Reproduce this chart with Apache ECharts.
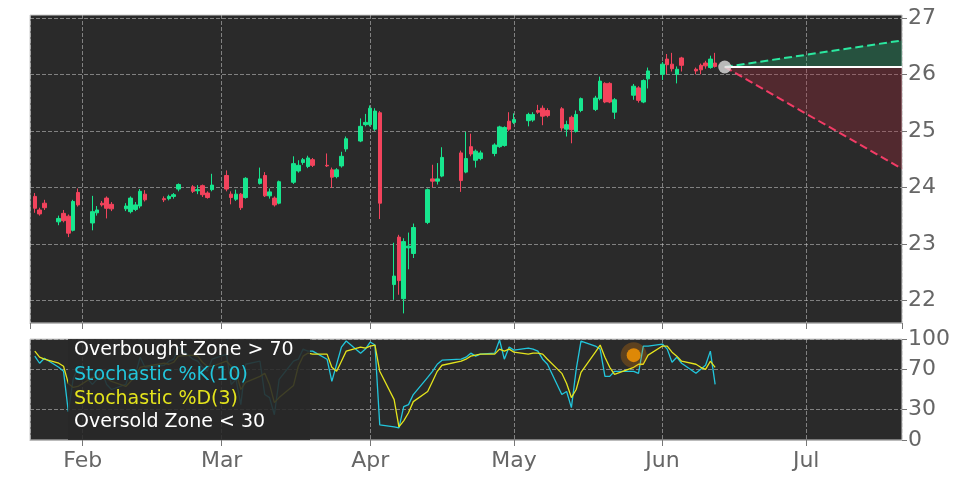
<!DOCTYPE html>
<html style="height: 100%">
<head>
    <meta charset="utf-8">
    <script src="https://cdn.jsdelivr.net/npm/echarts@6.0.0/dist/echarts.min.js"></script>
</head>
<body style="height: 100%; margin: 0; background: #fff">
    <div id="container" style="width: 972px; height: 486px"></div>
    <script>
        const dates = [
            '2020-01-22', '2020-01-23', '2020-01-24',
            '2020-01-27', '2020-01-28', '2020-01-29', '2020-01-30', '2020-01-31',
            '2020-02-03', '2020-02-04', '2020-02-05', '2020-02-06', '2020-02-07',
            '2020-02-10', '2020-02-11', '2020-02-12', '2020-02-13', '2020-02-14',
            '2020-02-18', '2020-02-19', '2020-02-20', '2020-02-21',
            '2020-02-24', '2020-02-25', '2020-02-26', '2020-02-27', '2020-02-28',
            '2020-03-02', '2020-03-03', '2020-03-04', '2020-03-05', '2020-03-06',
            '2020-03-09', '2020-03-10', '2020-03-11', '2020-03-12', '2020-03-13',
            '2020-03-16', '2020-03-17', '2020-03-18', '2020-03-19', '2020-03-20',
            '2020-03-23', '2020-03-24', '2020-03-25', '2020-03-26', '2020-03-27',
            '2020-03-30', '2020-03-31', '2020-04-01', '2020-04-02', '2020-04-03',
            '2020-04-06', '2020-04-07', '2020-04-08', '2020-04-09', '2020-04-10',
            '2020-04-13', '2020-04-14', '2020-04-15', '2020-04-16',
            '2020-04-20', '2020-04-21', '2020-04-22', '2020-04-23', '2020-04-24',
            '2020-04-27', '2020-04-28', '2020-04-29', '2020-04-30', '2020-05-01',
            '2020-05-04', '2020-05-05', '2020-05-06', '2020-05-07', '2020-05-08',
            '2020-05-11', '2020-05-12', '2020-05-13', '2020-05-14', '2020-05-15',
            '2020-05-18', '2020-05-19', '2020-05-20', '2020-05-21', '2020-05-22',
            '2020-05-26', '2020-05-27', '2020-05-28', '2020-05-29',
            '2020-06-01', '2020-06-02', '2020-06-03', '2020-06-04', '2020-06-05',
            '2020-06-08', '2020-06-09', '2020-06-10', '2020-06-11', '2020-06-12'
        ];
        // open, close, low, high
        const candles = [
            [23.84, 23.63, 23.55, 23.90], [23.60, 23.53, 23.50, 23.64], [23.72, 23.64, 23.60, 23.78],
            [23.39, 23.45, 23.33, 23.50], [23.54, 23.41, 23.38, 23.60], [23.49, 23.19, 23.12, 23.52], [23.24, 23.75, 23.22, 23.78], [23.91, 23.69, 23.66, 23.98],
            [23.37, 23.57, 23.24, 23.85], [23.55, 23.60, 23.50, 23.67], [23.72, 23.69, 23.66, 23.76], [23.81, 23.63, 23.45, 23.84], [23.70, 23.62, 23.58, 23.74],
            [23.62, 23.67, 23.58, 23.72], [23.57, 23.81, 23.54, 23.84], [23.61, 23.69, 23.58, 23.74], [23.67, 23.93, 23.63, 23.97], [23.88, 23.78, 23.75, 23.95],
            [23.80, 23.78, 23.74, 23.84], [23.80, 23.84, 23.77, 23.87], [23.84, 23.87, 23.80, 23.90], [23.97, 24.05, 23.93, 24.07],
            [24.01, 23.93, 23.90, 24.04], [23.94, 23.96, 23.88, 24.04], [24.03, 23.87, 23.83, 24.05], [23.90, 23.82, 23.80, 23.93], [23.96, 24.04, 23.93, 24.24],
            [24.21, 23.97, 23.93, 24.30], [23.88, 23.82, 23.70, 23.93], [23.79, 23.88, 23.76, 23.96], [23.88, 23.64, 23.60, 23.90], [23.82, 24.16, 23.80, 24.18],
            [24.07, 24.15, 24.05, 24.35], [24.21, 23.85, 23.83, 24.27], [23.85, 23.92, 23.80, 23.98], [23.81, 23.69, 23.66, 23.84], [23.72, 24.10, 23.70, 24.12],
            [24.09, 24.42, 24.06, 24.55], [24.29, 24.39, 24.26, 24.48], [24.44, 24.49, 24.40, 24.52], [24.37, 24.52, 24.34, 24.56], [24.49, 24.39, 24.36, 24.52],
            [24.39, 24.38, 24.36, 24.60], [24.31, 24.18, 23.99, 24.35], [24.19, 24.31, 24.16, 24.34], [24.38, 24.55, 24.35, 24.63], [24.68, 24.86, 24.63, 24.90],
            [24.82, 25.08, 24.80, 25.22], [25.11, 25.15, 25.08, 25.30], [25.11, 25.40, 25.08, 25.45], [25.03, 25.35, 25.00, 25.40], [25.32, 23.72, 23.44, 25.35],
            [22.28, 22.43, 22.01, 23.02], [23.12, 22.35, 22.10, 23.16], [22.03, 23.04, 21.77, 23.10], [22.93, 22.96, 22.55, 23.20], [22.83, 23.29, 22.75, 23.36],
            [23.38, 23.96, 23.35, 23.98], [24.15, 24.11, 24.00, 24.40], [24.11, 24.15, 24.05, 24.43], [24.20, 24.53, 24.18, 24.71],
            [24.61, 24.12, 23.92, 24.65], [24.27, 24.51, 24.25, 24.98], [24.72, 24.59, 24.55, 24.95], [24.48, 24.64, 24.35, 24.67], [24.51, 24.61, 24.48, 24.65],
            [24.60, 24.75, 24.55, 24.78], [24.72, 25.07, 24.70, 25.09], [24.74, 25.06, 24.72, 25.08], [25.17, 25.03, 25.00, 25.33], [25.15, 25.20, 25.12, 25.31],
            [25.18, 25.29, 25.08, 25.32], [25.19, 25.29, 25.16, 25.33], [25.36, 25.33, 25.30, 25.46], [25.40, 25.26, 25.10, 25.45], [25.36, 25.27, 25.24, 25.40],
            [25.39, 25.05, 25.00, 25.42], [25.03, 25.11, 24.90, 25.18], [25.24, 25.02, 24.78, 25.27], [24.99, 25.29, 24.97, 25.36], [25.36, 25.57, 25.33, 25.59],
            [25.38, 25.58, 25.35, 25.62], [25.57, 25.88, 25.54, 25.96], [25.84, 25.51, 25.49, 25.86], [25.84, 25.51, 25.49, 25.86], [25.33, 25.55, 25.21, 25.58],
            [25.63, 25.79, 25.55, 25.83], [25.76, 25.54, 25.50, 25.79], [25.51, 25.89, 25.49, 25.91], [25.92, 26.06, 25.75, 26.12],
            [26.00, 26.18, 25.90, 26.22], [26.27, 26.17, 26.00, 26.36], [26.18, 26.10, 26.05, 26.38], [26.00, 26.09, 25.84, 26.14], [26.29, 26.16, 26.05, 26.31],
            [26.09, 26.06, 26.00, 26.12], [26.16, 26.08, 26.00, 26.19], [26.20, 26.15, 26.10, 26.24], [26.12, 26.27, 26.10, 26.33], [26.20, 26.14, 26.12, 26.38]
        ];
        const stochK = [
            83, 76, 81, 72, 68, 28, 60, 72, 55, 60, 68, 55, 50, 55, 70, 65, 82, 72, 74, 78, 80, 92,
            80, 78, 72, 68, 80, 85, 55, 60, 35, 75, 78, 45, 42, 25, 60, 78, 80, 90, 88, 88,
            80, 58, 75, 92, 98, 86, 90, 97, 94, 15, 13, 12, 33, 35, 45, 62, 68, 75, 79,
            80, 82, 86, 83, 85, 86, 99, 80, 92, 89, 91, 90, 88, 80, 75, 45, 48, 32, 70, 98,
            93, 90, 63, 63, 68, 68, 66, 93, 93, 95, 90, 77, 82, 76, 66, 70, 74, 88, 55
        ];
        const stochD = [
            88, 82, 80, 76, 73, 56, 52, 53, 62, 62, 61, 61, 58, 53, 58, 63, 72, 73, 76, 75, 77, 83,
            84, 83, 77, 73, 73, 78, 73, 67, 50, 57, 63, 66, 55, 37, 42, 54, 73, 83, 86, 85,
            85, 72, 68, 78, 88, 92, 91, 93, 94, 68, 40, 13, 19, 27, 38, 48, 58, 68, 74,
            78, 80, 83, 84, 85, 85, 90, 88, 90, 87, 85, 86, 86, 85, 80, 66, 56, 42, 50, 67,
            87, 94, 82, 72, 65, 72, 75, 75, 84, 93, 93, 87, 83, 78, 75, 72, 70, 78, 72
        ];
        const lastDate = '2020-06-14';
        const lastClose = 26.13;
        const projDate = '2020-07-21';
        const projHigh = 26.6;
        const projLow = 24.33;
        const signalDate = '2020-05-26';
        const signalValue = 84;
        const priceTicks = [22, 23, 24, 25, 26, 27];
        const stochTicks = [0, 30, 70, 100];

        const monthNames = ['Jan', 'Feb', 'Mar', 'Apr', 'May', 'Jun', 'Jul', 'Aug'];
        const xMin = '2020-01-21';
        const xMax = '2020-07-21';
        const gridColor = 'rgba(200, 200, 200, 0.55)';
        const DAY = 86400000;

        const xAxisBase = {
            type: 'time',
            min: xMin,
            max: xMax,
            minInterval: 28 * DAY,
            maxInterval: 31 * DAY,
            axisLine: { show: true, lineStyle: { color: '#bbb' } },
            axisTick: { show: true, length: 6, lineStyle: { color: '#777' } },
            minorTick: { show: false },
            splitLine: { show: true, lineStyle: { color: gridColor, type: 'dashed' } }
        };

        const myChart = echarts.init(document.getElementById('container'));
        const option = {
            animation: false,
            grid: [
                { left: 30, right: 70, top: 15, height: 308, show: true, backgroundColor: '#2a2a2a', borderColor: '#ccc' },
                { left: 30, right: 70, top: 339, height: 101, show: true, backgroundColor: '#2a2a2a', borderColor: '#ccc' }
            ],
            xAxis: [
                Object.assign({}, xAxisBase, { gridIndex: 0, axisLabel: { show: false } }),
                Object.assign({}, xAxisBase, {
                    gridIndex: 1,
                    axisLabel: {
                        color: '#666', fontSize: 22, fontFamily: 'DejaVu Sans', margin: 10,
                        formatter: v => monthNames[new Date(v).getMonth()]
                    }
                })
            ],
            yAxis: [
                {
                    gridIndex: 0, type: 'value', position: 'right', min: 21.6, max: 27.05,
                    axisLine: { show: false },
                    axisTick: { show: true, customValues: priceTicks, length: 5, lineStyle: { color: '#777' } },
                    axisLabel: { customValues: priceTicks, color: '#666', fontSize: 22, fontFamily: 'DejaVu Sans', margin: 6 },
                    splitLine: { show: true, lineStyle: { color: gridColor, type: 'dashed' } }
                },
                {
                    gridIndex: 1, type: 'value', position: 'right', min: 0, max: 100,
                    axisLine: { show: false },
                    axisTick: { show: true, customValues: stochTicks, length: 5, lineStyle: { color: '#777' } },
                    axisLabel: { customValues: stochTicks, color: '#666', fontSize: 22, fontFamily: 'DejaVu Sans', margin: 6 },
                    splitLine: { show: true, lineStyle: { color: gridColor, type: 'dashed' } }
                }
            ],
            series: [
                {
                    type: 'candlestick',
                    xAxisIndex: 0, yAxisIndex: 0,
                    barWidth: 4,
                    data: dates.map((d, i) => [d].concat(candles[i])),
                    itemStyle: {
                        color: '#17e68e', color0: '#f2435c',
                        borderColor: '#17e68e', borderColor0: '#f2435c', borderWidth: 1
                    }
                },
                {
                    type: 'line', xAxisIndex: 0, yAxisIndex: 0, symbol: 'none',
                    data: [[lastDate, lastClose], [projDate, projHigh]],
                    lineStyle: { color: '#2be8a0', width: 2, type: 'dashed' },
                    areaStyle: { origin: lastClose, color: 'rgba(30, 170, 110, 0.45)' }
                },
                {
                    type: 'line', xAxisIndex: 0, yAxisIndex: 0, symbol: 'none',
                    data: [[lastDate, lastClose], [projDate, projLow]],
                    lineStyle: { color: '#f23c66', width: 2, type: 'dashed' },
                    areaStyle: { origin: lastClose, color: 'rgba(170, 40, 60, 0.45)' }
                },
                {
                    type: 'line', xAxisIndex: 0, yAxisIndex: 0, symbol: 'none',
                    data: [[lastDate, lastClose], [projDate, lastClose]],
                    lineStyle: { color: '#fff', width: 2 }
                },
                {
                    type: 'scatter', xAxisIndex: 0, yAxisIndex: 0, symbolSize: 13,
                    data: [[lastDate, lastClose]],
                    itemStyle: { color: '#ddd' }, z: 5
                },
                {
                    type: 'line', xAxisIndex: 1, yAxisIndex: 1, symbol: 'none',
                    data: dates.map((d, i) => [d, stochK[i]]),
                    lineStyle: { color: '#22c6dc', width: 1.3 }
                },
                {
                    type: 'line', xAxisIndex: 1, yAxisIndex: 1, symbol: 'none',
                    data: dates.map((d, i) => [d, stochD[i]]),
                    lineStyle: { color: '#e4e41c', width: 1.3 }
                },
                {
                    type: 'scatter', xAxisIndex: 1, yAxisIndex: 1, symbolSize: 26,
                    data: [[signalDate, signalValue]],
                    itemStyle: { color: 'rgba(255, 140, 0, 0.3)' }, z: 5
                },
                {
                    type: 'scatter', xAxisIndex: 1, yAxisIndex: 1, symbolSize: 14,
                    data: [[signalDate, signalValue]],
                    itemStyle: { color: '#ff9a00' }, z: 6
                }
            ],
            graphic: [
                { type: 'rect', left: 68, top: 339, shape: { width: 242, height: 101 }, style: { fill: 'rgba(40, 40, 40, 0.88)' }, z: 100 },
                { type: 'text', left: 74, top: 341, style: { text: 'Overbought Zone > 70', fill: '#fff', font: '19px "DejaVu Sans"' }, z: 101 },
                { type: 'text', left: 74, top: 366, style: { text: 'Stochastic %K(10)', fill: '#22c6dc', font: '19px "DejaVu Sans"' }, z: 101 },
                { type: 'text', left: 74, top: 390, style: { text: 'Stochastic %D(3)', fill: '#e4e41c', font: '19px "DejaVu Sans"' }, z: 101 },
                { type: 'text', left: 74, top: 413, style: { text: 'Oversold Zone < 30', fill: '#fff', font: '19px "DejaVu Sans"' }, z: 101 }
            ]
        };
        myChart.setOption(option);
    </script>
</body>
</html>
